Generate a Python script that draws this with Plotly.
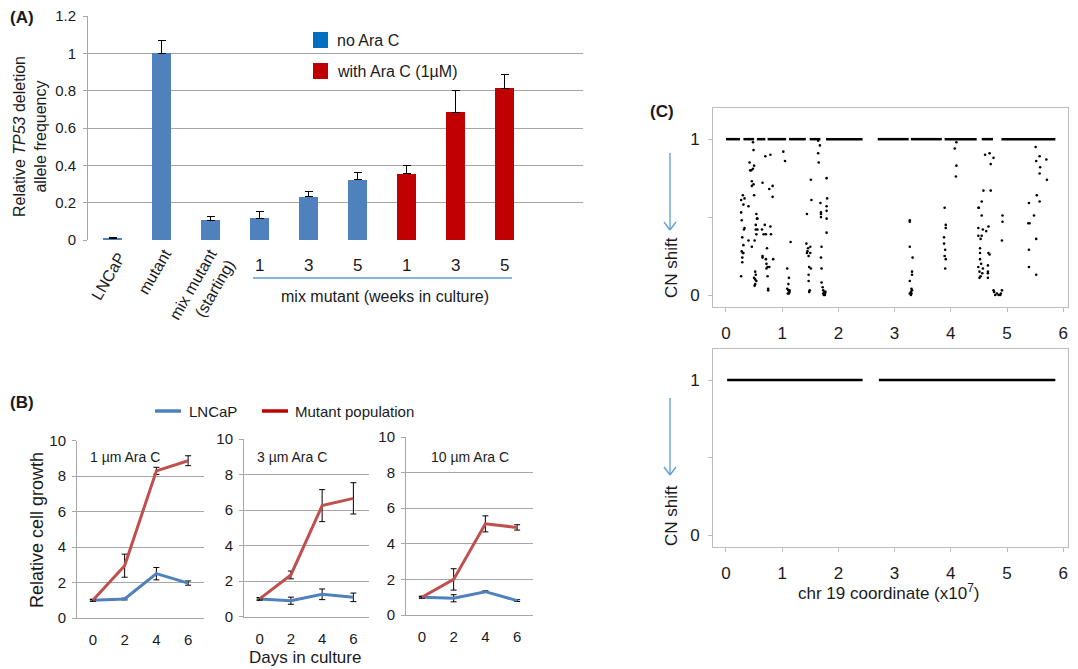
import plotly.graph_objects as go

W, H = 1078, 669
FONT = "Arial, 'Liberation Sans', sans-serif"
TXT = "#1a1a1a"
GRID = "#A6A6A6"
BOX = "#BDBDBD"

# ---------------- Panel A data ----------------
cat_A = ["LNCaP", "mutant", "mix mutant<br>(starting)", "1", "3", "5", "1", "3", "5"]
val_A = [0.007, 1.0, 0.107, 0.116, 0.232, 0.323, 0.354, 0.684, 0.814]
err_A = [0.006, 0.071, 0.018, 0.039, 0.030, 0.038, 0.044, 0.118, 0.070]
grp_A = ["no Ara C"] * 6 + ["with Ara C (1µM)"] * 3
legend_A = ["no Ara C", "with Ara C (1µM)"]
group_label_A = "mix mutant (weeks in culture)"
yticks_A = [0, 0.2, 0.4, 0.6, 0.8, 1.0, 1.2]
yticktext_A = ["0", "0.2", "0.4", "0.6", "0.8", "1", "1.2"]

# ---------------- Panel B data ----------------
days = [0, 2, 4, 6]
doses_B = ["1 µm Ara C", "3 µm Ara C", "10 µm Ara C"]
lncap_B = [[1.0, 1.07, 2.5, 1.97], [1.0, 0.9, 1.26, 1.09], [1.0, 0.94, 1.31, 0.81]]
lncap_err_B = [[0.05, 0.05, 0.35, 0.12], [0.08, 0.2, 0.3, 0.24], [0.05, 0.2, 0.05, 0.05]]
mutant_B = [[1.0, 2.95, 8.3, 8.87], [1.0, 2.35, 6.25, 6.66], [1.0, 2.0, 5.12, 4.92]]
mutant_err_B = [[0.05, 0.65, 0.2, 0.28], [0.05, 0.22, 0.9, 0.88], [0.05, 0.6, 0.45, 0.15]]
legend_B = ["LNCaP", "Mutant population"]

# ---------------- Panel C data ----------------
# contiguous runs of probes at CN shift = 1 (mutant, top) and normal (bottom)
seg_start_top = [0.0, 0.31, 0.55, 0.74, 1.12, 1.49, 1.78, 2.70, 3.29, 3.89, 4.55, 4.90]
seg_end_top = [0.25, 0.50, 0.70, 1.07, 1.42, 1.68, 2.43, 3.25, 3.84, 4.46, 4.75, 5.86]
seg_start_bot = [0.02, 2.72]
seg_end_bot = [2.43, 5.86]

cn_x = [
    0.30, 0.27, 0.33, 0.31, 0.40, 0.27, 0.28, 0.33, 0.32, 0.29, 0.31, 0.28, 0.30, 0.31, 0.29, 0.29, 0.27, 0.40, 0.46,
    0.48, 0.49, 0.42, 0.45, 0.43, 0.48, 0.50, 0.46, 0.46, 0.49, 0.50, 0.54, 0.55, 0.56, 0.53, 0.53, 0.56, 0.54, 0.51,
    0.52, 0.53, 0.50, 0.52, 0.54, 0.52, 0.51,
    0.70, 0.79, 0.65, 0.77, 0.83, 0.83, 0.64, 0.69, 0.67, 0.71, 0.79, 0.80, 0.73, 0.65, 0.65, 0.71, 0.84, 0.72, 0.74,
    0.72, 0.77, 0.74, 0.75, 0.75,
    1.02, 1.05, 1.15, 1.09, 1.12, 1.11, 1.09, 1.11, 1.13, 1.10, 1.12, 1.13,
    1.44, 1.51, 1.52, 1.43, 1.46, 1.50, 1.45, 1.44, 1.47, 1.50, 1.48, 1.51, 1.47, 1.47, 1.49, 1.48,
    1.64, 1.67, 1.64, 1.65, 1.79, 1.68, 1.80, 1.69, 1.69, 1.69, 1.79, 1.79, 1.79, 1.79, 1.70, 1.69, 1.70, 1.70,
    1.72, 1.73, 1.75, 1.76, 1.74, 1.77, 1.73, 1.76,
    3.27, 3.27, 3.27, 3.32, 3.31, 3.31, 3.27, 3.30, 3.31, 3.29, 3.30, 3.29, 3.27,
    3.89, 3.91, 3.91, 3.88, 3.88, 3.90, 3.89, 3.91, 3.90,
    4.10, 4.07, 4.10, 4.09,
    4.61, 4.69, 4.76, 4.71, 4.58, 4.71, 4.55, 4.49, 4.50, 4.55, 4.67, 4.49, 4.57, 4.63, 4.49, 4.55, 4.53, 4.67,
    4.69, 4.52, 4.52, 4.52, 4.54, 4.49, 4.57, 4.66, 4.66, 4.66, 4.51, 4.56, 4.51, 4.53, 4.66, 4.76, 4.77, 4.82,
    4.85, 4.88, 4.89, 4.91, 4.79,
    4.92, 4.92, 4.91,
    5.51, 5.58, 5.52, 5.70, 5.59, 5.58, 5.71, 5.53, 5.58, 5.39, 5.48, 5.38, 5.40, 5.52, 5.39, 5.39, 5.52,
]
cn_y = [
    0.64, 0.61, 0.62, 0.58, 0.57, 0.53, 0.48, 0.43, 0.42, 0.37, 0.32, 0.28, 0.27, 0.27, 0.24, 0.21, 0.12, 0.35, 0.31,
    0.98, 0.93, 0.85, 0.80, 0.80, 0.81, 0.83, 0.73, 0.70, 0.71, 0.64, 0.52, 0.49, 0.49, 0.45, 0.42, 0.42, 0.39, 0.35,
    0.15, 0.13, 0.11, 0.10, 0.09, 0.07, 0.06,
    0.89, 0.90, 0.72, 0.68, 0.70, 0.63, 0.42, 0.45, 0.39, 0.39, 0.44, 0.39, 0.30, 0.25, 0.24, 0.23, 0.23, 0.20, 0.18,
    0.17, 0.18, 0.12, 0.04, 0.03,
    0.92, 0.86, 0.34, 0.17, 0.11, 0.07, 0.04, 0.03, 0.02, 0.01, 0.01, 0.03,
    0.52, 0.74, 0.61, 0.33, 0.30, 0.31, 0.28, 0.27, 0.25, 0.27, 0.18, 0.17, 0.13, 0.09, 0.03, 0.02,
    0.99, 0.96, 0.91, 0.85, 0.75, 0.59, 0.62, 0.52, 0.50, 0.53, 0.57, 0.54, 0.49, 0.40, 0.31, 0.24, 0.17, 0.08,
    0.05, 0.03, 0.02, 0.01, 0.00, 0.02, 0.01, 0.00,
    0.48, 0.47, 0.31, 0.24, 0.15, 0.13, 0.09, 0.04, 0.03, 0.02, 0.01, 0.00, 0.01,
    0.56, 0.45, 0.43, 0.37, 0.33, 0.29, 0.25, 0.23, 0.17,
    0.98, 0.94, 0.83, 0.76,
    0.90, 0.91, 0.88, 0.84, 0.67, 0.67, 0.60, 0.56, 0.56, 0.51, 0.44, 0.43, 0.42, 0.41, 0.38, 0.38, 0.36, 0.27,
    0.26, 0.30, 0.27, 0.23, 0.20, 0.18, 0.17, 0.19, 0.15, 0.14, 0.15, 0.14, 0.11, 0.12, 0.11, 0.03, 0.02, 0.01,
    0.00, 0.00, 0.01, 0.03, 0.00,
    0.51, 0.47, 0.35,
    0.95, 0.89, 0.86, 0.87, 0.82, 0.78, 0.74, 0.64, 0.60, 0.59, 0.51, 0.46, 0.46, 0.36, 0.29, 0.18, 0.13,
]
cn_ticks = [0, 1]
chr_ticks = [0, 1, 2, 3, 4, 5, 6]


def px(x, y):
    return x / W, 1 - y / H


fig = go.Figure()

# ---- Panel A bars ----
colors_A = {"no Ara C": "#4F81BD", "with Ara C (1µM)": "#C00000"}
for g in legend_A:
    idx = [i for i, gg in enumerate(grp_A) if gg == g]
    fig.add_trace(go.Bar(
        x=idx, y=[val_A[i] for i in idx], width=0.4,
        marker=dict(color=colors_A[g], line=dict(width=0)),
        error_y=dict(type="data", symmetric=False, array=[err_A[i] for i in idx],
                     arrayminus=[0] * len(idx), color="black", thickness=1, width=4),
        xaxis="x", yaxis="y", showlegend=False, name=g))

# ---- Panel B lines ----
for k in range(3):
    ax = str(k + 2)
    fig.add_trace(go.Scatter(
        x=days, y=lncap_B[k], mode="lines", line=dict(color="#4F81BD", width=3),
        error_y=dict(type="data", array=lncap_err_B[k], color="black", thickness=1, width=3),
        xaxis="x" + ax, yaxis="y" + ax, showlegend=False, name=legend_B[0]))
    fig.add_trace(go.Scatter(
        x=days, y=mutant_B[k], mode="lines", line=dict(color="#C0504D", width=3),
        error_y=dict(type="data", array=mutant_err_B[k], color="black", thickness=1, width=3),
        xaxis="x" + ax, yaxis="y" + ax, showlegend=False, name=legend_B[1]))

# ---- Panel C ----
fig.add_trace(go.Scatter(x=cn_x, y=cn_y, mode="markers",
                         marker=dict(color="black", size=2.6),
                         xaxis="x5", yaxis="y5", showlegend=False))


def seg_line(starts, ends):
    xs, ys = [], []
    for s, e in zip(starts, ends):
        xs += [s, e, None]
        ys += [1, 1, None]
    return xs, ys


sx, sy = seg_line(seg_start_top, seg_end_top)
fig.add_trace(go.Scatter(x=sx, y=sy, mode="lines", line=dict(color="black", width=2.5),
                         xaxis="x5", yaxis="y5", showlegend=False))
bx, by = seg_line(seg_start_bot, seg_end_bot)
fig.add_trace(go.Scatter(x=bx, y=by, mode="lines", line=dict(color="black", width=2.5),
                         xaxis="x6", yaxis="y6", showlegend=False))

tf = lambda s: dict(family=FONT, size=s, color=TXT)

layout = dict(
    width=W, height=H, margin=dict(l=0, r=0, t=0, b=0, pad=0),
    paper_bgcolor="white", plot_bgcolor="white",
    font=dict(family=FONT, color=TXT),
    showlegend=False, bargap=0,
)

# Panel A axes
layout["xaxis"] = dict(domain=[88 / W, 583 / W], range=[-0.5, 9.6], anchor="y", automargin=False,
                       showticklabels=False, showgrid=False, zeroline=False, showline=False, ticks="")
layout["yaxis"] = dict(domain=[1 - 240 / H, 1 - 16 / H], range=[0, 1.2], anchor="x", automargin=False,
                       tickvals=yticks_A, ticktext=yticktext_A, showgrid=True, gridcolor=GRID,
                       showline=True, linecolor=GRID, ticks="outside", ticklen=4, tickcolor=GRID,
                       zeroline=False, tickfont=tf(15), ticklabelstandoff=4)

# Panel B axes
dom_B = [(77, 204, 618, 440.7), (244, 369, 616.7, 439), (406, 533, 615, 437)]
for k, (x0, x1, yb, yt) in enumerate(dom_B):
    ax = str(k + 2)
    layout["xaxis" + ax] = dict(domain=[x0 / W, x1 / W], range=[-1, 7], anchor="y" + ax,
                                automargin=False, tickvals=days, showgrid=False, zeroline=False,
                                showline=True, linecolor=GRID, ticks="", tickfont=tf(15),
                                ticklabelstandoff=8)
    layout["yaxis" + ax] = dict(domain=[1 - yb / H, 1 - yt / H], range=[0, 10], dtick=2,
                                anchor="x" + ax, automargin=False, showgrid=True, gridcolor=GRID,
                                showline=True, linecolor=GRID, ticks="outside", ticklen=4,
                                tickcolor=GRID, zeroline=False, tickfont=tf(15), ticklabelstandoff=3)

# Panel C axes
for ax, (yb, yt) in (("5", (307, 108)), ("6", (547, 349))):
    layout["xaxis" + ax] = dict(domain=[713 / W, 1068 / W], range=[-0.231, 6.085], anchor="y" + ax,
                                automargin=False, tickvals=chr_ticks, showgrid=False, zeroline=False,
                                showline=True, mirror=True, linecolor=BOX, ticks="outside", ticklen=4,
                                tickcolor=BOX, tickfont=tf(17), ticklabelstandoff=7)
    layout["yaxis" + ax] = dict(domain=[1 - yb / H, 1 - yt / H], range=[-0.077, 1.2], anchor="x" + ax,
                                automargin=False, tickvals=cn_ticks, showgrid=False, zeroline=False,
                                showline=True, mirror=True, linecolor=BOX, ticks="outside", ticklen=4,
                                tickcolor=BOX, tickfont=tf(17), ticklabelstandoff=5,
                                minor=dict(tickvals=[0.5], ticks="outside", ticklen=4, tickcolor=BOX))

fig.update_layout(**layout)

ann = []


def add_text(x, y, text, size, **kw):
    X, Y = px(x, y)
    d = dict(x=X, y=Y, xref="paper", yref="paper", text=text, showarrow=False,
             font=tf(size), xanchor=kw.pop("xanchor", "center"), yanchor=kw.pop("yanchor", "middle"))
    d.update(kw)
    ann.append(d)


# panel labels
add_text(22, 17, "<b>(A)</b>", 17)
add_text(22, 402, "<b>(B)</b>", 17)
add_text(662, 111, "<b>(C)</b>", 17)

# Panel A titles and category labels
add_text(30, 137, "Relative <i>TP53</i> deletion<br>allele frequency", 16, textangle=-90)
rot_centers = {0: (108, 276), 1: (154, 272), 2: (202, 290)}
for i, lab in enumerate(cat_A):
    if i in rot_centers:
        cx, cy = rot_centers[i]
        add_text(cx, cy, lab, 16, textangle=-60, align="right")
    else:
        ann.append(dict(x=i, y=1 - 265 / H, xref="x", yref="paper", text=lab, showarrow=False,
                        font=tf(17), xanchor="center", yanchor="middle"))
add_text(385, 297, group_label_A, 16)

# Panel A legend
shapes = []
for j, (g, yy) in enumerate(zip(legend_A, (40, 71))):
    col = ["#0070C0", "#C00000"][j]
    x0, y0 = px(313, yy - 8)
    x1, y1 = px(328, yy + 8)
    shapes.append(dict(type="rect", xref="paper", yref="paper", x0=x0, x1=x1, y0=y1, y1=y0,
                       fillcolor=col, line=dict(width=0)))
    add_text(335, yy + 1, g, 16, xanchor="left")

# blue underline under week numbers
x0, y0 = px(253, 278)
x1, _ = px(512, 278)
shapes.append(dict(type="line", xref="paper", yref="paper", x0=x0, x1=x1, y0=y0, y1=y0,
                   line=dict(color="#5B9BD5", width=1.5)))

# Panel B legend
for j, (g, xa, xt) in enumerate(zip(legend_B, (155, 262), (187, 293))):
    col = ["#4F81BD", "#C00000"][j]
    x0, y0 = px(xa, 411)
    x1, _ = px(xa + 26, 411)
    shapes.append(dict(type="line", xref="paper", yref="paper", x0=x0, x1=x1, y0=y0, y1=y0,
                       line=dict(color=col, width=3.5)))
    add_text(xt, 411, g, 15, xanchor="left")

# Panel B labels
for lab, xx in zip(doses_B, (88, 255, 429)):
    add_text(xx, 457, lab, 14, xanchor="left")
add_text(37, 530, "Relative cell growth", 18, textangle=-90)
add_text(305, 657, "Days in culture", 17)

# Panel C labels
add_text(671, 268, "CN shift", 17, textangle=-90)
add_text(671, 516, "CN shift", 17, textangle=-90)
add_text(888, 592, "chr 19 coordinate (x10<sup>7</sup>)", 17)

for (ya, yb) in ((153, 230), (398, 475)):
    xa, ya_ = px(670, ya)
    _, yb_ = px(670, yb)
    shapes.append(dict(type="line", xref="paper", yref="paper", x0=xa, x1=xa, y0=ya_, y1=yb_,
                       line=dict(color="#5B9BD5", width=1.3)))
    for dx in (-6, 6):
        hx, hy = px(670 + dx, yb - 8)
        shapes.append(dict(type="line", xref="paper", yref="paper", x0=hx, x1=xa, y0=hy, y1=yb_,
                           line=dict(color="#5B9BD5", width=1.3)))

fig.update_layout(annotations=ann, shapes=shapes)
fig.write_html("out.html", config={"displayModeBar": False},
               post_script="document.body.style.margin='0';document.body.style.overflow='hidden';")
